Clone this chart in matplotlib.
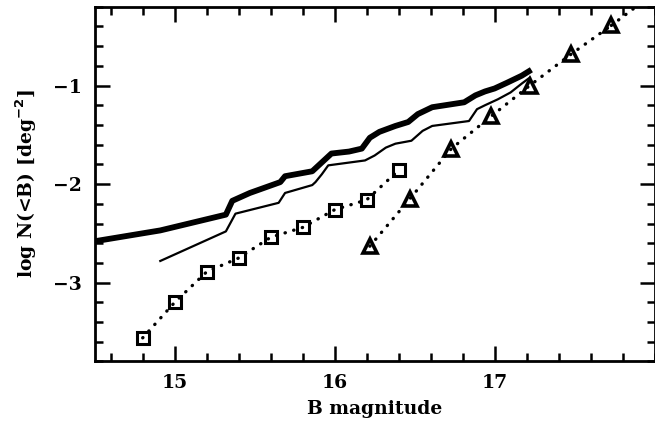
import numpy as np
import matplotlib.pyplot as plt
from matplotlib.ticker import MultipleLocator

# thick curve (cumulative counts, sample 1)
thick_mag = [14.50, 14.91, 15.32, 15.36, 15.47, 15.66, 15.69, 15.86, 15.90, 15.98,
             16.09, 16.17, 16.22, 16.28, 16.38, 16.46, 16.52, 16.61, 16.81, 16.88,
             16.94, 17.00, 17.08, 17.17, 17.23]
thick_logn = [-2.58, -2.47, -2.31, -2.17, -2.09, -1.98, -1.92, -1.87, -1.81, -1.69,
              -1.67, -1.64, -1.53, -1.47, -1.41, -1.37, -1.29, -1.22, -1.17, -1.10,
              -1.06, -1.03, -0.97, -0.90, -0.84]

# thin curve (cumulative counts, sample 2)
thin_mag = [14.91, 15.32, 15.38, 15.65, 15.69, 15.86, 15.88, 15.92, 15.96, 16.19,
            16.25, 16.32, 16.38, 16.48, 16.55, 16.61, 16.84, 16.89, 16.94, 17.02,
            17.10, 17.17, 17.22]
thin_logn = [-2.78, -2.48, -2.30, -2.19, -2.09, -2.01, -1.98, -1.90, -1.81, -1.76,
             -1.71, -1.63, -1.59, -1.56, -1.46, -1.41, -1.36, -1.24, -1.20, -1.14,
             -1.07, -0.98, -0.92]

# squares
sq_mag = [14.80, 15.00, 15.20, 15.40, 15.60, 15.80, 16.00, 16.20, 16.40]
sq_logn = [-3.56, -3.20, -2.89, -2.75, -2.54, -2.44, -2.26, -2.16, -1.86]

# triangles
tri_mag = [16.22, 16.47, 16.73, 16.98, 17.22, 17.48, 17.73]
tri_logn = [-2.63, -2.15, -1.64, -1.31, -1.00, -0.68, -0.39]
# dotted continuation past the last triangle
tri_ext_mag = [17.73, 17.95]
tri_ext_logn = [-0.39, -0.12]

plt.rcParams['font.family'] = ['DejaVu Serif']
plt.rcParams['font.weight'] = 'bold'

fig = plt.figure(figsize=(6.55, 4.23), dpi=100)
ax = fig.add_axes([0.1446, 0.1454, 0.8547, 0.8388])

ax.plot(thick_mag, thick_logn, color='black', lw=4.2, solid_capstyle='butt')
ax.plot(thin_mag, thin_logn, color='black', lw=1.6)

dot = (0, (0.1, 2.6))
ax.plot(sq_mag, sq_logn, color='black', lw=2.4, linestyle=dot, dash_capstyle='round')
ax.plot(sq_mag, sq_logn, linestyle='none', marker='s', markersize=8.5,
        markerfacecolor='none', markeredgecolor='black', markeredgewidth=2.2)

ax.plot(tri_mag, tri_logn, color='black', lw=2.4, linestyle=dot, dash_capstyle='round')
ax.plot(tri_ext_mag, tri_ext_logn, color='black', lw=2.4, linestyle=dot, dash_capstyle='round')
ax.plot(tri_mag, tri_logn, linestyle='none', marker='^', markersize=9.5,
        markerfacecolor='none', markeredgecolor='black', markeredgewidth=2.6)

ax.set_xlim(14.5, 18.0)
ax.set_ylim(-3.8, -0.2)

ax.xaxis.set_major_locator(MultipleLocator(1))
ax.xaxis.set_minor_locator(MultipleLocator(0.2))
ax.yaxis.set_major_locator(MultipleLocator(1))
ax.yaxis.set_minor_locator(MultipleLocator(0.2))
ax.set_xticks([15, 16, 17])
ax.set_yticks([-3, -2, -1])
ax.set_yticklabels(['\u22123', '\u22122', '\u22121'])

ax.tick_params(which='both', direction='in', top=True, right=True, width=1.8,
               labelsize=13.5)
ax.tick_params(which='major', length=10.5, pad=9)
ax.tick_params(which='minor', length=5.5)
for s in ax.spines.values():
    s.set_linewidth(2.0)

ax.set_xlabel('B magnitude', fontsize=13.5, fontweight='bold', labelpad=6)
ax.set_ylabel(r'log N(<B) [deg$^{\mathbf{-2}}$]', fontsize=13.5, fontweight='bold', labelpad=10)

fig.savefig('out.png', dpi=100)
